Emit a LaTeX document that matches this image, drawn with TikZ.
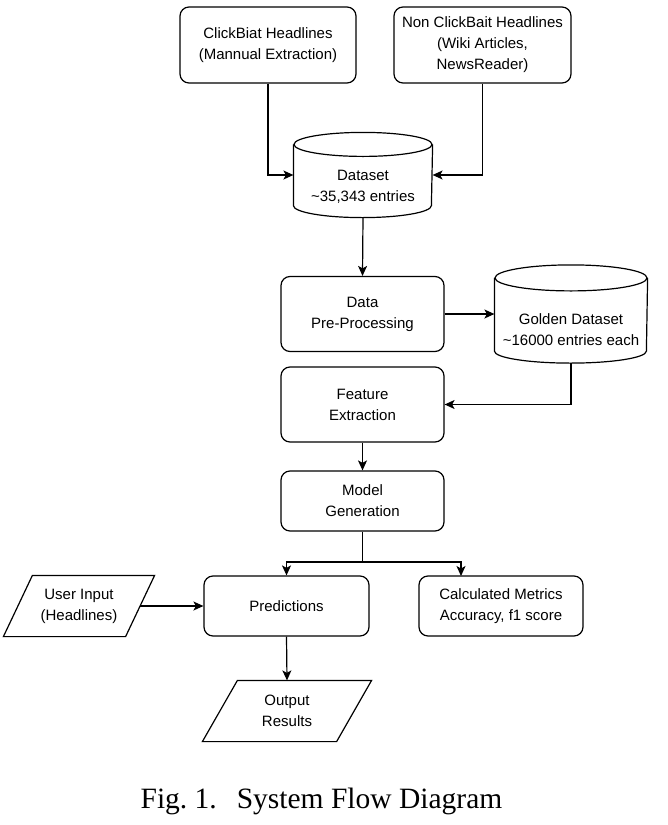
\documentclass[tikz,border=0pt]{standalone}
\usepackage{fontspec}
\setmainfont{Liberation Serif}
\newfontfamily\diasans{Liberation Sans}
\usetikzlibrary{arrows.meta,calc}
\begin{document}
\begin{tikzpicture}[x=1pt,y=-1pt,
  line width=1.2pt,
  txt/.style={align=center, inner sep=0pt, font=\diasans\fontsize{15}{21}\selectfont},
  box/.style={txt, draw, rounded corners=9pt},
  ghost/.style={txt},
  arr/.style={-{Stealth[length=10pt,width=9pt,inset=2.5pt]}, line width=1.2pt},
]
\useasboundingbox (0,0) rectangle (667,825);

% top sources
\node[box, minimum width=176pt, minimum height=76pt] (cb) at (268,45) {ClickBiat Headlines\\(Mannual Extraction)};
\node[box, minimum width=177pt, minimum height=76pt] (ncb) at (482.5,45) {Non ClickBait Headlines\\(Wiki Articles,\\NewsReader)};

% dataset cylinder
\node[ghost, minimum width=138pt, minimum height=84pt] (ds) at (363,175) {};
\draw ([yshift=-12pt]ds.north west) -- ([yshift=12pt]ds.south west)
  arc[start angle=180, end angle=360, x radius=69pt, y radius=12pt]
  -- ([yshift=-12pt]ds.north east);
\draw ([yshift=-12pt]ds.north) ellipse [x radius=69pt, y radius=12pt];
\node[ghost] (dstxt) at (363,187) {Dataset\\\textasciitilde35,343 entries};

% pre-processing
\node[box, minimum width=163pt, minimum height=75pt] (pre) at (362.5,314) {Data\\Pre-Processing};

% golden dataset cylinder
\node[ghost, minimum width=152pt, minimum height=97pt] (gd) at (571,314) {};
\draw ([yshift=-13pt]gd.north west) -- ([yshift=12pt]gd.south west)
  arc[start angle=180, end angle=360, x radius=76pt, y radius=12pt]
  -- ([yshift=-13pt]gd.north east);
\draw ([yshift=-13pt]gd.north) ellipse [x radius=76pt, y radius=13pt];
\node[ghost] (gdtxt) at (571,330) {Golden Dataset\\\textasciitilde16000 entries each};

% feature extraction
\node[box, minimum width=163pt, minimum height=75pt] (fe) at (362.5,404.5) {Feature\\Extraction};

% model generation
\node[box, minimum width=163pt, minimum height=60pt] (mg) at (362.5,501) {Model\\Generation};

% predictions and metrics
\node[box, minimum width=165pt, minimum height=60pt] (pred) at (286.5,606) {Predictions};
\node[box, minimum width=164pt, minimum height=60pt] (met) at (501,606) {Calculated Metrics\\Accuracy, f1 score};

% user input parallelogram
\node[ghost, minimum width=121pt, minimum height=60pt] (ui) at (79,606) {User Input\\(Headlines)};
\draw ([xshift=14.5pt]ui.north west) -- ([xshift=14.5pt]ui.north east)
  -- ([xshift=-14.5pt]ui.south east) -- ([xshift=-14.5pt]ui.south west) -- cycle;

% output parallelogram
\node[ghost, minimum width=133pt, minimum height=60pt] (out) at (287,711) {Output\\Results};
\draw ([xshift=17.5pt]out.north west) -- ([xshift=17.5pt]out.north east)
  -- ([xshift=-17.5pt]out.south east) -- ([xshift=-17.5pt]out.south west) -- cycle;

% connectors
\draw[arr] (cb.south) |- (ds.west);
\draw[arr] (ncb.south) |- (ds.east);
\draw[arr] (ds.south) -- (pre.north);
\draw[arr] (pre.east) -- (gd.west);
\draw[arr] (gd.south) |- (fe.east);
\draw[arr] (fe.south) -- (mg.north);
\coordinate (br) at (362.5,562);
\coordinate (metin) at (461,576);
\draw (mg.south) -- (br);
\draw[arr] (br) -| (pred.north);
\draw[arr] (br) -| (metin);
\draw[arr] (ui.east) -- (pred.west);
\draw[arr] (pred.south) -- (out.north);

% caption
\node[anchor=base west, inner sep=0pt, font=\fontsize{29.5}{30}\selectfont] (cap) at (140,808) {Fig.\ 1.\hspace{20pt}System Flow Diagram};
\end{tikzpicture}
\end{document}
